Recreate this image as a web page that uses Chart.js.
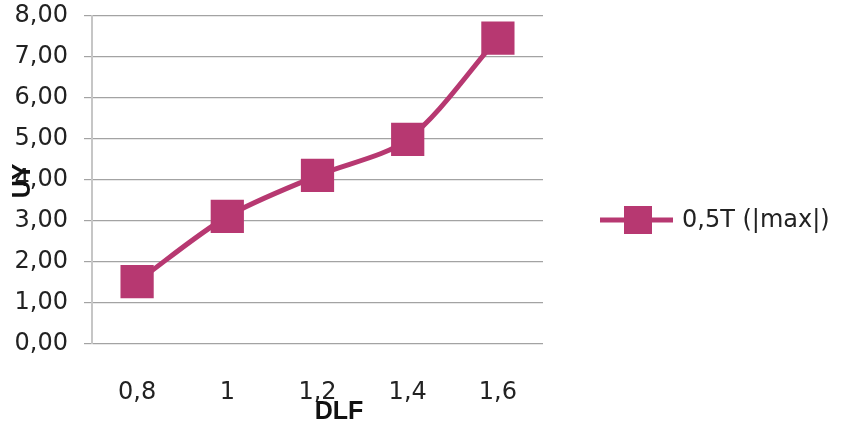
<!DOCTYPE html>
<html>
<head>
<meta charset="utf-8">
<script src="https://cdn.jsdelivr.net/npm/chart.js@4"></script>
<style>
html,body{margin:0;padding:0;background:#fff;}
#wrap{width:841px;height:427px;position:relative;}
</style>
</head>
<body>
<div id="wrap"><canvas id="c" width="841" height="427"></canvas></div>
<script>
const categories = ['0,8', '1', '1,2', '1,4', '1,6'];
const seriesName = '0,5T (|max|)';
const seriesValues = [1.52, 3.11, 4.11, 4.99, 7.46];
const yTicks = [0, 1, 2, 3, 4, 5, 6, 7, 8];
const xTitle = 'DLF';
const yTitle = 'UY';

const COLOR = '#B73871';
const TICK_FONT = {family: 'DejaVu Sans', size: 24};

const overlay = {
  id: 'overlay',
  afterDraw(chart) {
    const ctx = chart.ctx;
    ctx.save();
    ctx.fillStyle = '#111';
    ctx.font = 'bold 25px "Liberation Sans"';
    ctx.textAlign = 'center';
    ctx.textBaseline = 'middle';
    ctx.fillText(xTitle, 339, 412);
    ctx.save();
    ctx.translate(23, 181);
    ctx.rotate(-Math.PI / 2);
    ctx.fillText(yTitle, 0, 0);
    ctx.restore();
    const ly = 220;
    ctx.strokeStyle = COLOR;
    ctx.lineWidth = 5;
    ctx.beginPath();
    ctx.moveTo(600, ly);
    ctx.lineTo(673, ly);
    ctx.stroke();
    ctx.fillStyle = COLOR;
    ctx.fillRect(624, ly - 14, 28, 28);
    ctx.fillStyle = '#222';
    ctx.font = '24px "DejaVu Sans"';
    ctx.textAlign = 'left';
    ctx.fillText(seriesName, 682, ly + 1);
    ctx.restore();
  }
};

new Chart(document.getElementById('c'), {
  type: 'line',
  data: {
    labels: categories,
    datasets: [{
      label: seriesName,
      data: seriesValues,
      borderColor: COLOR,
      backgroundColor: COLOR,
      pointBorderColor: COLOR,
      borderWidth: 5,
      pointStyle: 'rect',
      pointRadius: 23.5,
      pointHoverRadius: 23.5,
      pointBorderWidth: 0,
      tension: 0.3,
      fill: false,
      clip: false
    }]
  },
  options: {
    responsive: false,
    animation: false,
    devicePixelRatio: 1,
    layout: {autoPadding: false, padding: {left: 0, right: 298, top: 16, bottom: 0}},
    plugins: {legend: {display: false}, tooltip: {enabled: false}},
    scales: {
      x: {
        type: 'category',
        offset: true,
        grid: {display: false, drawTicks: false},
        border: {display: false},
        ticks: {font: TICK_FONT, color: '#222', padding: 34, maxRotation: 0, autoSkip: false},
        afterFit(s) { s.height = 83; }
      },
      y: {
        min: 0, max: 8,
        afterBuildTicks(s) { s.ticks = yTicks.map(v => ({value: v})); },
        grid: {color: '#A3A3A3', lineWidth: 1.2, tickLength: 8},
        border: {display: true, color: '#C6C6C6', width: 2},
        ticks: {
          font: {family: 'DejaVu Sans', size: 24, lineHeight: 0.4}, color: '#222', padding: 16,
          callback: v => v.toFixed(2).replace('.', ',')
        },
        afterFit(s) { s.width = 92; s.paddingTop = 0; s.paddingBottom = 0; }
      }
    }
  },
  plugins: [overlay]
});
</script>
</body>
</html>
